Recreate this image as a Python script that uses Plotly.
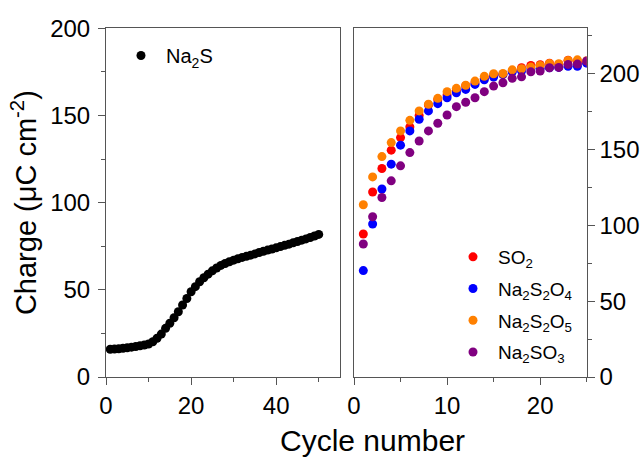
import plotly.graph_objects as go

W, H = 643, 457

# ---- data ----
na2s_cycles = list(range(1, 51))
na2s_charge = [15.9, 16.0, 16.2, 16.5, 16.8, 17.1, 17.5, 17.9, 18.3, 18.9,
               20.2, 22.2, 24.6, 27.9, 30.8, 34.0, 37.4, 41.3, 45.0, 48.9,
               51.8, 54.6, 56.9, 59.0, 60.9, 62.5, 64.0, 65.1, 66.1, 67.0,
               67.8, 68.6, 69.2, 69.9, 70.6, 71.4, 72.1, 72.8, 73.4, 74.1,
               74.8, 75.5, 76.2, 77.0, 77.7, 78.5, 79.2, 80.0, 80.9, 81.8]

cycles_b = list(range(1, 26))
so2 = [94.3, 122.0, 137.5, 149.6, 157.9, 164.9, 172.5, 179.4, 182.9, 186.0,
       189.1, 192.1, 193.9, 197.0, 199.1, 199.5, 201.8, 204.0, 205.5, 206.0,
       207.0, 206.2, 209.0, 208.0, 207.2]
na2s2o4 = [70.2, 100.9, 124.0, 140.4, 152.9, 162.3, 170.0, 175.5, 180.3, 184.2,
           187.5, 189.7, 193.0, 196.0, 197.8, 199.6, 201.3, 201.8, 203.1, 203.6,
           204.0, 204.2, 204.9, 205.0, 207.0]
na2s2o5 = [113.6, 132.0, 145.4, 154.6, 162.3, 169.3, 175.5, 179.9, 183.8, 188.2,
           190.4, 192.4, 195.2, 198.3, 200.0, 200.2, 202.6, 203.3, 204.4, 205.5,
           206.8, 206.6, 208.8, 209.2, 208.6]
na2so3 = [87.7, 105.7, 118.4, 129.4, 139.3, 148.0, 155.7, 162.3, 167.4, 172.8,
          178.3, 181.2, 184.2, 188.2, 191.9, 194.1, 197.0, 198.0, 201.3, 201.8,
          204.0, 204.2, 206.2, 206.4, 208.4]

series_right = [
    ("SO<sub>2</sub>", so2, "#ff0000"),
    ("Na<sub>2</sub>S<sub>2</sub>O<sub>4</sub>", na2s2o4, "#0000ff"),
    ("Na<sub>2</sub>S<sub>2</sub>O<sub>5</sub>", na2s2o5, "#ff8000"),
    ("Na<sub>2</sub>SO<sub>3</sub>", na2so3, "#800080"),
]

FONT = "Liberation Sans, Arial, sans-serif"
AX = "#555555"

fig = go.Figure()
fig.add_trace(go.Scatter(x=na2s_cycles, y=na2s_charge, mode="markers",
                         name="Na<sub>2</sub>S",
                         marker=dict(color="black", size=9),
                         xaxis="x", yaxis="y", legend="legend"))
for i, (name, vals, col) in enumerate(series_right):
    fig.add_trace(go.Scatter(x=cycles_b, y=vals, mode="markers", name=name,
                             legendgroup=f"g{i}",
                             marker=dict(color=col, size=9),
                             xaxis="x2", yaxis="y2", legend="legend2"))

ydom = [1 - 377 / H, 1 - 28.3 / H]
common = dict(showline=True, linecolor=AX, linewidth=1, mirror=True,
              ticks="outside", ticklen=7, tickwidth=1, tickcolor=AX,
              showgrid=False, zeroline=False, automargin=False,
              tickfont=dict(family=FONT, size=24, color="black"))
minor = dict(ticks="outside", ticklen=4, tickwidth=1, tickcolor=AX, showgrid=False)

fig.update_layout(
    width=W, height=H,
    margin=dict(l=0, r=0, t=0, b=0),
    paper_bgcolor="white", plot_bgcolor="white",
    font=dict(family=FONT, color="black"),
    xaxis=dict(domain=[106 / W, 340 / W], range=[0, 55], anchor="y",
               tickvals=[0, 20, 40], minor=dict(tickvals=[10, 30, 50], **minor), **common),
    yaxis=dict(domain=ydom, range=[0, 200], anchor="x",
               tickvals=[0, 50, 100, 150, 200], ticklabelstandoff=3,
               minor=dict(tickvals=[25, 75, 125, 175], **minor),
               title=dict(text="Charge (μC cm<sup>-2</sup>)",
                          font=dict(family=FONT, size=29, color="black"), standoff=4),
               **common),
    xaxis2=dict(domain=[354 / W, 586.7 / W], range=[0, 25], anchor="y2",
                tickvals=[0, 10, 20], minor=dict(tickvals=[5, 15, 25], **minor), **common),
    yaxis2=dict(domain=ydom, range=[0, 230], anchor="x2", side="right",
                tickvals=[0, 50, 100, 150, 200],
                minor=dict(tickvals=[25, 75, 125, 175, 225], **minor), **common),
    legend=dict(x=116 / W, y=1 - 36 / H, xanchor="left", yanchor="top",
                itemwidth=40,
                bgcolor="rgba(0,0,0,0)", font=dict(family=FONT, size=20, color="black")),
    legend2=dict(x=448 / W, y=1 - 238 / H, xanchor="left", yanchor="top",
                 tracegroupgap=4, itemwidth=40,
                 bgcolor="rgba(0,0,0,0)", font=dict(family=FONT, size=19, color="black")),
    showlegend=True,
)

fig.add_annotation(text="Cycle number", x=372 / W, y=1 - 440 / H, xref="paper", yref="paper",
                   showarrow=False, font=dict(family=FONT, size=30, color="black"),
                   xanchor="center", yanchor="middle")

fig.write_html("out.html")
